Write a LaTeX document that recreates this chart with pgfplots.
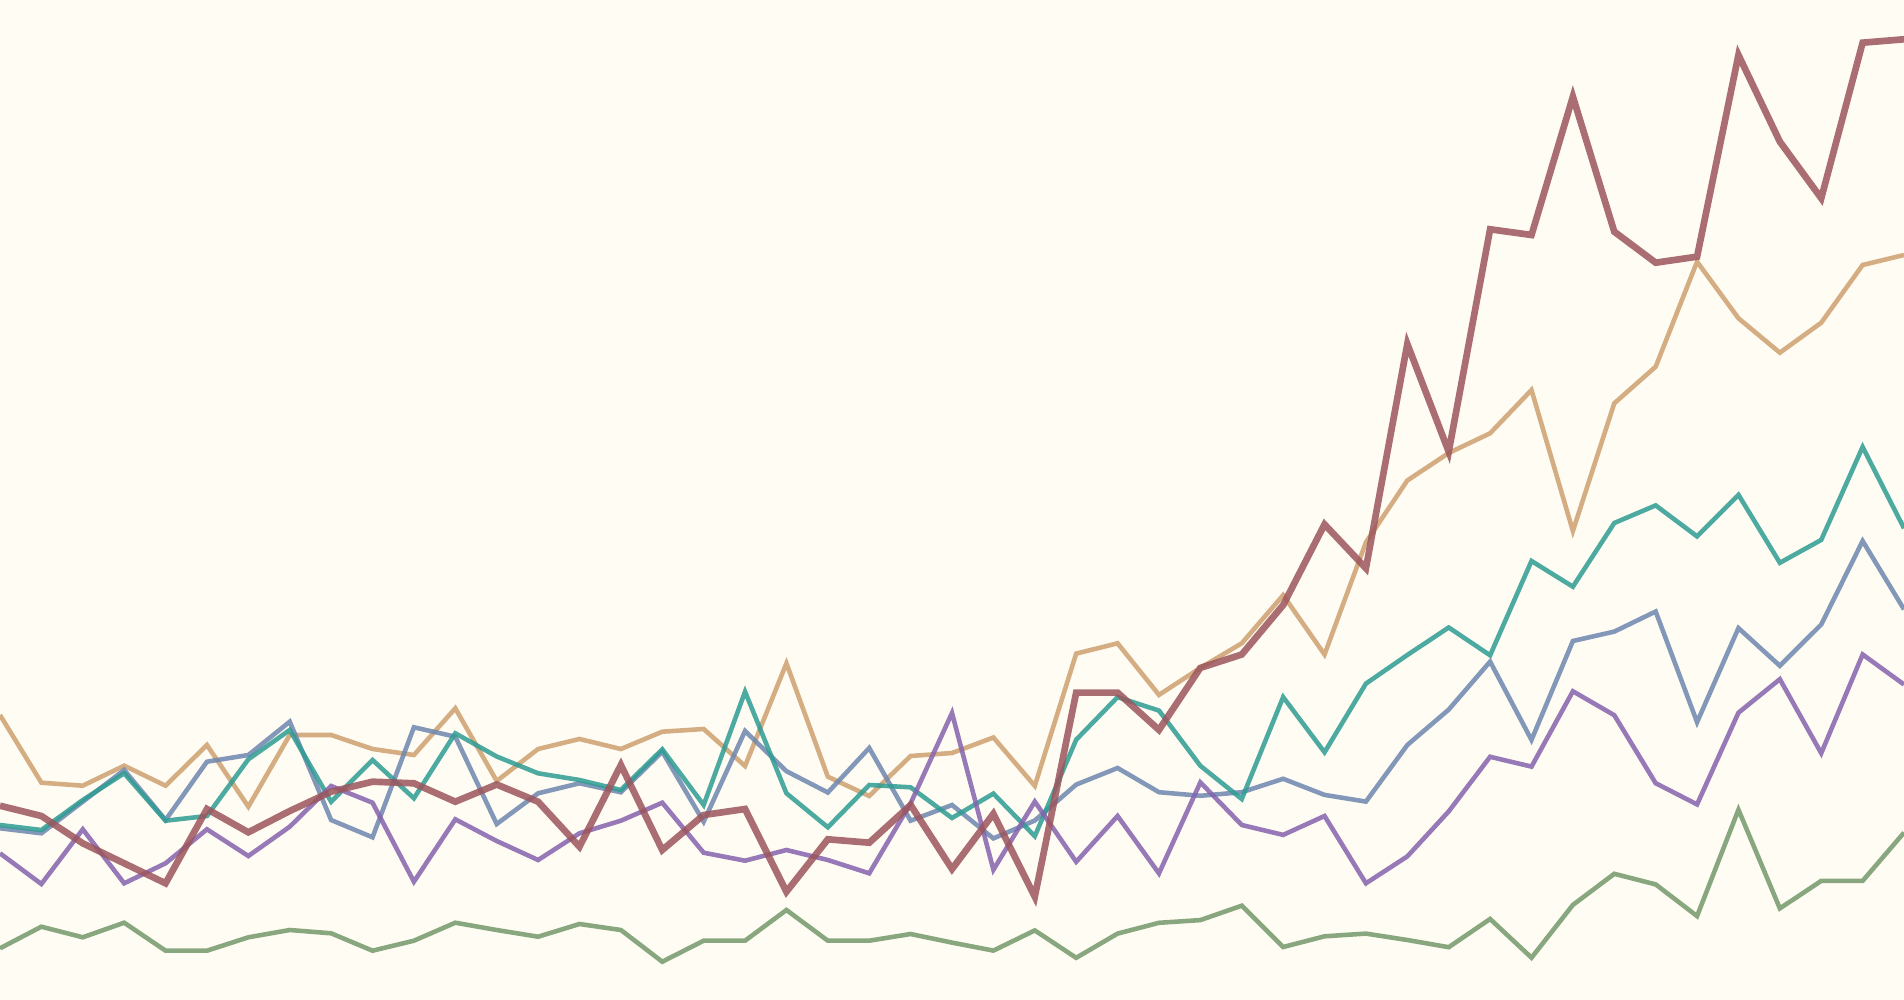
\documentclass[border=0pt]{standalone}
\usepackage{pgfplots}
\pgfplotsset{compat=1.18}
\definecolor{bg}{HTML}{FFFCF3}
\definecolor{cred}{HTML}{9C555C}
\definecolor{ctan}{HTML}{CDA06F}
\definecolor{cteal}{HTML}{2E9C93}
\definecolor{cblue}{HTML}{6E87B0}
\definecolor{cpurple}{HTML}{8563AD}
\definecolor{cgreen}{HTML}{74996A}
\begin{document}
\begin{tikzpicture}
\begin{axis}[
  scale only axis, width=19.04cm, height=10cm,
  xmin=0, xmax=46, ymin=0, ymax=1000, y dir=reverse,
  axis lines=none, ticks=none,
  axis background/.style={fill=bg},
  clip=true,
  every axis plot/.append style={no markers, line width=1.3pt, draw opacity=0.85},
]
% tan
\addplot[ctan] coordinates {(0,715) (1,782.7) (2,785.7) (3,765.7) (4,785.7) (5,745) (6,806.7) (7,735) (8,735) (9,749) (10,755) (11,708.3) (12,781) (13,749) (14,739) (15,749) (16,731.7) (17,729) (18,766) (19,663.3) (20,776.7) (21,796) (22,756) (23,753) (24,737.5) (25,785.9) (26,653.6) (27,643.3) (28,694.9) (29,667.9) (30,643.3) (31,595.2) (32,654.5) (33,542.3) (34,480.5) (35,453) (36,433.3) (37,390) (38,531) (39,403.3) (40,366.7) (41,261.7) (42,318.3) (43,352.7) (44,322.7) (45,265) (46,255)};
% blue
\addplot[cblue] coordinates {(0,828.3) (1,833.3) (2,801.7) (3,770) (4,820) (5,761.7) (6,755) (7,721.7) (8,820) (9,837.3) (10,727.3) (11,736.7) (12,824) (13,793.3) (14,783.3) (15,792.3) (16,751.7) (17,821.7) (18,731) (19,771.2) (20,792.5) (21,748) (22,820.7) (23,805) (24,838.4) (25,820.5) (26,784.6) (27,768) (28,792.2) (29,795.8) (30,792.2) (31,778.8) (32,794.9) (33,801.6) (34,745) (35,709.6) (36,661.6) (37,739.9) (38,641) (39,631.6) (40,611.5) (41,722.2) (42,628.1) (43,665.8) (44,624.5) (45,541) (46,609.4)};
% teal
\addplot[cteal] coordinates {(0,825) (1,830) (2,800) (3,773.3) (4,820.7) (5,816) (6,759.3) (7,730) (8,801.7) (9,760) (10,798.3) (11,733.3) (12,756.5) (13,773.3) (14,780) (15,790) (16,749.3) (17,805) (18,691.7) (19,793.3) (20,827.3) (21,785) (22,787.3) (23,818) (24,793.6) (25,836.2) (26,739.7) (27,697.1) (28,710.6) (29,765.8) (30,799) (31,697.1) (32,752.3) (33,683.6) (34,655) (35,627.5) (36,655.3) (37,561) (38,586.7) (39,523) (40,505.4) (41,536.4) (42,494.8) (43,562.8) (44,539.9) (45,447) (46,528.3)};
% purple
\addplot[cpurple] coordinates {(0,853.3) (1,884) (2,829.3) (3,883.3) (4,863.3) (5,829.3) (6,856) (7,826.7) (8,786) (9,802.7) (10,881.7) (11,819.3) (12,841) (13,860) (14,833.3) (15,820.7) (16,802.7) (17,852.7) (18,860.7) (19,850) (20,860) (21,873.3) (22,803.3) (23,713) (24,869.8) (25,801.6) (26,861.8) (27,816) (28,873.4) (29,782.4) (30,825) (31,834.9) (32,816) (33,883.3) (34,856.4) (35,811.4) (36,756.8) (37,766.6) (38,691.3) (39,715.2) (40,783.2) (41,804.4) (42,712.7) (43,679.2) (44,753.2) (45,654.5) (46,684.5)};
% green
\addplot[cgreen] coordinates {(0,948.3) (1,926.7) (2,937.3) (3,922.7) (4,950.7) (5,950.7) (6,937.3) (7,930) (8,933.3) (9,950.7) (10,940.7) (11,922.7) (12,930) (13,936.7) (14,924) (15,930) (16,961.7) (17,940.7) (18,940.7) (19,910) (20,940.7) (21,940.7) (22,934) (23,942.6) (24,950.6) (25,930.4) (26,957.8) (27,933.6) (28,922.8) (29,920.1) (30,905.7) (31,947) (32,936.3) (33,933.6) (34,940) (35,947.2) (36,919) (37,957.7) (38,904.9) (39,873.8) (40,884.4) (41,916.1) (42,809.7) (43,908.4) (44,880.9) (45,880.9) (46,832.6)};
% red
\addplot[cred, line width=1.9pt] coordinates {(0,805.7) (1,816) (2,843.3) (3,863.3) (4,883.3) (5,809) (6,832.3) (7,811) (8,791.7) (9,781.7) (10,783.3) (11,801.7) (12,784.5) (13,801.7) (14,846.7) (15,765) (16,850) (17,815) (18,809) (19,891.7) (20,839.3) (21,842.7) (22,805) (23,869) (24,813.8) (25,896.8) (26,692.6) (27,692.6) (28,729.9) (29,667.9) (30,654.5) (31,605.1) (32,524.4) (33,568.3) (34,344) (35,451.7) (36,229.3) (37,235) (38,96.7) (39,231.7) (40,262.7) (41,256.7) (42,55) (43,141.7) (44,198.3) (45,42.7) (46,39.3)};
\end{axis}
\end{tikzpicture}
\end{document}
